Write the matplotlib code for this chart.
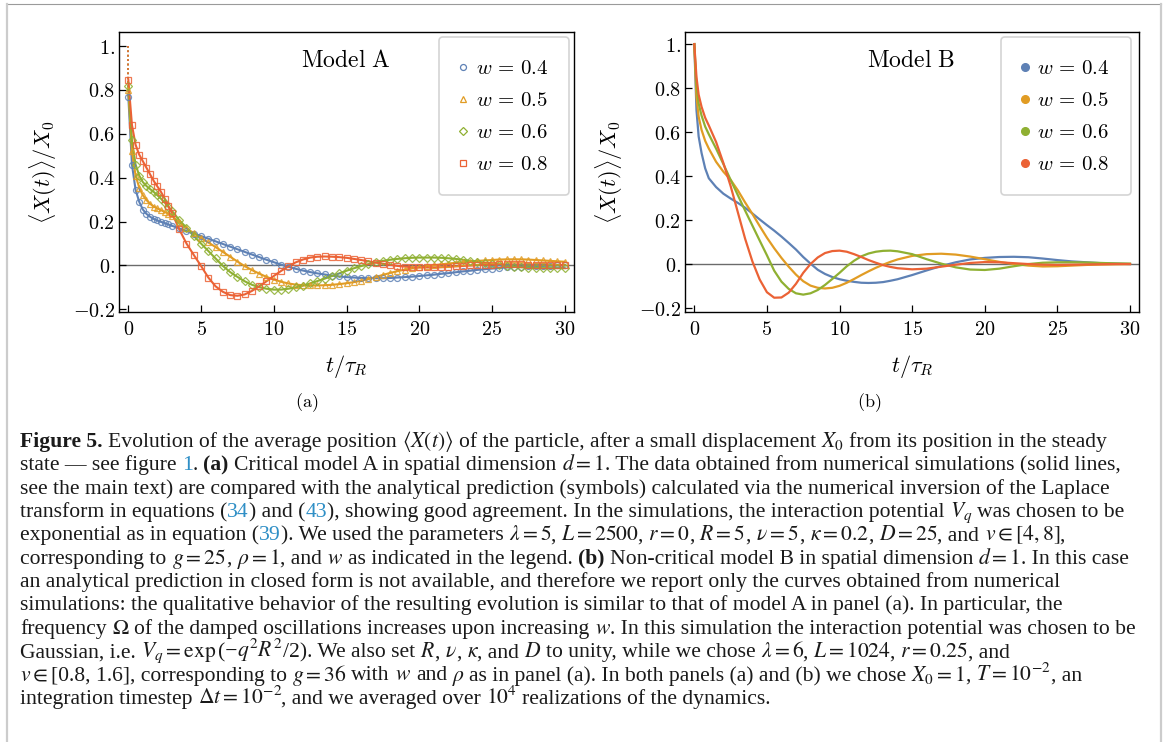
import re
import matplotlib
matplotlib.use("Agg")
import matplotlib.pyplot as plt
from matplotlib.lines import Line2D
from matplotlib.font_manager import FontProperties
from matplotlib.mathtext import MathTextParser

plt.rcParams["mathtext.fontset"] = "cm"

# Mathematica default palette
colors = ["#5E81B5", "#E19C24", "#8FB032", "#EB6235"]
w_labels = [r"$w\,=\,0.4$", r"$w\,=\,0.5$", r"$w\,=\,0.6$", r"$w\,=\,0.8$"]
markers_a = ["o", "^", "D", "s"]

x_ticks = [0, 5, 10, 15, 20, 25, 30]
x_ticklabels = ["$0$", "$5$", "$10$", "$15$", "$20$", "$25$", "$30$"]
y_ticks = [-0.2, 0.0, 0.2, 0.4, 0.6, 0.8, 1.0]
y_ticklabels = ["$-0.2$", "$0.$", "$0.2$", "$0.4$", "$0.6$", "$0.8$", "$1.$"]

x0_start = 1.0  # <X(0)>/X0

# ---- panel (a): model A, symbols (analytical) + lines (simulations)
t_a = [0, 0.25, 0.5, 0.75, 1.0, 1.25, 1.5, 1.75, 2.0, 2.25, 2.5, 2.75, 3.0,
       3.5, 4.0, 4.5, 5.0, 5.5, 6.0, 6.5, 7.0, 7.5, 8.0, 8.5, 9.0, 9.5, 10.0,
       10.5, 11.0, 11.5, 12.0, 12.5, 13.0, 13.5, 14.0, 14.5, 15.0, 15.5, 16.0,
       16.5, 17.0, 17.5, 18.0, 18.5, 19.0, 19.5, 20.0, 20.5, 21.0, 21.5, 22.0,
       22.5, 23.0, 23.5, 24.0, 24.5, 25.0, 25.5, 26.0, 26.5, 27.0, 27.5, 28.0,
       28.5, 29.0, 29.5, 30.0]

a_w04 = [0.77, 0.46, 0.345, 0.29, 0.255, 0.235, 0.222, 0.212, 0.205, 0.199, 0.193, 0.187, 0.181,
         0.169, 0.157, 0.145, 0.134, 0.122, 0.110, 0.098, 0.086, 0.074, 0.062, 0.050, 0.038, 0.026, 0.015,
         0.004, -0.006, -0.015, -0.023, -0.030, -0.036, -0.041, -0.046, -0.050, -0.053, -0.055, -0.057,
         -0.058, -0.058, -0.058, -0.057, -0.055, -0.053, -0.051, -0.048, -0.045, -0.042, -0.038, -0.035,
         -0.031, -0.027, -0.024, -0.020, -0.017, -0.014, -0.011, -0.009, -0.007, -0.005, -0.004, -0.003,
         -0.002, -0.001, 0.0, 0.0]
a_w05 = [0.80, 0.52, 0.41, 0.355, 0.32, 0.298, 0.281, 0.268, 0.26, 0.252, 0.244, 0.236, 0.225,
         0.197, 0.17, 0.147, 0.125, 0.105, 0.084, 0.062, 0.040, 0.018, -0.003, -0.021, -0.037, -0.052, -0.064,
         -0.074, -0.082, -0.087, -0.090, -0.091, -0.091, -0.090, -0.088, -0.085, -0.081, -0.076, -0.070,
         -0.062, -0.053, -0.043, -0.034, -0.026, -0.019, -0.013, -0.008, -0.003, 0.001, 0.005, 0.009,
         0.012, 0.015, 0.018, 0.021, 0.023, 0.025, 0.027, 0.028, 0.028, 0.028, 0.027, 0.025,
         0.023, 0.021, 0.019, 0.017]
a_w06 = [0.82, 0.57, 0.46, 0.41, 0.38, 0.362, 0.348, 0.335, 0.32, 0.304, 0.287, 0.268, 0.249,
         0.207, 0.172, 0.135, 0.100, 0.066, 0.032, -0.002, -0.030, -0.052, -0.072, -0.088, -0.099, -0.106, -0.110,
         -0.110, -0.106, -0.100, -0.092, -0.082, -0.071, -0.060, -0.048, -0.036, -0.024, -0.013, -0.003,
         0.006, 0.014, 0.021, 0.026, 0.030, 0.033, 0.035, 0.036, 0.036, 0.036, 0.035, 0.033,
         0.030, 0.026, 0.021, 0.016, 0.011, 0.006, 0.002, -0.002, -0.005, -0.008, -0.010, -0.011,
         -0.012, -0.012, -0.012, -0.012]
a_w08 = [0.847, 0.64, 0.55, 0.505, 0.475, 0.445, 0.415, 0.385, 0.36, 0.335, 0.305, 0.27, 0.24,
         0.165, 0.10, 0.048, -0.002, -0.055, -0.095, -0.120, -0.135, -0.138, -0.132, -0.116, -0.095, -0.072, -0.048,
         -0.025, -0.004, 0.014, 0.027, 0.036, 0.040, 0.041, 0.040, 0.038, 0.035, 0.030, 0.025,
         0.019, 0.013, 0.008, 0.003, -0.002, -0.005, -0.008, -0.009, -0.009, -0.009, -0.008, -0.006,
         -0.004, -0.002, 0.000, 0.002, 0.003, 0.004, 0.005, 0.005, 0.005, 0.005, 0.004, 0.004,
         0.003, 0.003, 0.002, 0.002]

# ---- panel (b): model B, simulations only
t_b = [0, 0.15, 0.3, 0.5, 0.75, 1.0, 1.5, 2.0, 2.5, 3.0, 3.5, 4.0, 4.5, 5.0, 5.5, 6.0,
       6.5, 7.0, 7.5, 8.0, 8.5, 9.0, 9.5, 10.0, 10.5, 11.0, 11.5, 12.0, 12.5, 13.0, 13.5,
       14.0, 15.0, 16.0, 17.0, 18.0, 19.0, 20.0, 21.0, 22.0, 23.0, 24.0, 25.0, 26.0, 27.0,
       28.0, 29.0, 30.0]
b_w04 = [1.0, 0.70, 0.58, 0.505, 0.435, 0.39, 0.35, 0.32, 0.298, 0.278, 0.256, 0.23, 0.203, 0.177, 0.152, 0.125,
         0.096, 0.066, 0.032, 0.002, -0.026, -0.045, -0.059, -0.069, -0.076, -0.081, -0.085, -0.086, -0.085, -0.082, -0.076,
         -0.069, -0.05, -0.029, -0.009, 0.008, 0.021, 0.028, 0.032, 0.033, 0.031, 0.025, 0.018, 0.012, 0.008,
         0.004, 0.002, 0.0]
b_w05 = [1.0, 0.76, 0.67, 0.61, 0.56, 0.525, 0.465, 0.42, 0.383, 0.335, 0.28, 0.228, 0.173, 0.12, 0.072, 0.028,
         -0.012, -0.048, -0.078, -0.098, -0.108, -0.111, -0.108, -0.099, -0.085, -0.068, -0.05, -0.033, -0.017, -0.003, 0.01,
         0.021, 0.037, 0.045, 0.047, 0.043, 0.034, 0.022, 0.01, 0.0, -0.007, -0.011, -0.01, -0.007, -0.004,
         -0.002, -0.001, 0.0]
b_w06 = [1.0, 0.81, 0.73, 0.675, 0.625, 0.59, 0.525, 0.455, 0.383, 0.313, 0.243, 0.175, 0.107, 0.04, -0.03, -0.08,
         -0.113, -0.133, -0.139, -0.133, -0.118, -0.095, -0.068, -0.04, -0.01, 0.015, 0.035, 0.048, 0.056, 0.06, 0.061,
         0.058, 0.045, 0.022, 0.002, -0.015, -0.025, -0.027, -0.021, -0.01, 0.0, 0.006, 0.008, 0.008, 0.007,
         0.005, 0.003, 0.002]
b_w08 = [1.0, 0.85, 0.77, 0.715, 0.665, 0.63, 0.555, 0.46, 0.355, 0.235, 0.115, 0.012, -0.07, -0.128, -0.153, -0.152,
         -0.13, -0.09, -0.04, 0.0, 0.03, 0.05, 0.059, 0.061, 0.056, 0.045, 0.032, 0.018, 0.006, -0.005, -0.013,
         -0.019, -0.024, -0.021, -0.012, -0.003, 0.005, 0.009, 0.008, 0.004, 0.0, -0.003, -0.004, -0.003, -0.002,
         -0.001, 0.0, 0.0]

series_a = [a_w04, a_w05, a_w06, a_w08]
series_b = [b_w04, b_w05, b_w06, b_w08]

W, H = 1167, 742
fig = plt.figure(figsize=(W / 100, H / 100), dpi=100)


def px_axes(x0, y0, x1, y1):
    return fig.add_axes([x0 / W, 1 - y1 / H, (x1 - x0) / W, (y1 - y0) / H])


def style_axes(ax, xlim, ylim):
    ax.set_xlim(*xlim)
    ax.set_ylim(*ylim)
    ax.set_xticks(x_ticks, labels=x_ticklabels)
    ax.set_yticks(y_ticks, labels=y_ticklabels)
    ax.tick_params(direction="in", length=5, width=0.9, labelsize=14.5, top=False, right=False)
    ax.tick_params(axis="y", pad=3)
    ax.tick_params(axis="x", pad=6)
    for sp in ax.spines.values():
        sp.set_linewidth(1.0)
    ax.axhline(0, color="#6b6b6b", lw=1.0, zorder=1)
    ax.set_xlabel(r"$t/\tau_R$", fontsize=16)
    ax.set_ylabel(r"$\langle X(t)\rangle/X_0$", fontsize=16)
    ax.xaxis.set_label_coords(0.5, -0.196)
    ax.xaxis.label.set_va("center")
    ax.yaxis.set_label_coords(-0.168, 0.5)
    ax.yaxis.label.set_va("center")


def add_legend(ax, handles, x_anchor):
    leg = ax.legend(handles=handles, loc="upper right", bbox_to_anchor=(x_anchor, 0.982), borderaxespad=0,
                    fontsize=15, borderpad=1.0, labelspacing=0.58, handlelength=0.3, handletextpad=0.45,
                    fancybox=True, framealpha=1, edgecolor="#d4d4d4")
    leg.get_frame().set_linewidth(1.2)


# panel (a)
ax1 = px_axes(119, 32, 574, 312)
style_axes(ax1, (-0.64, 30.64), (-0.212, 1.064))
handles = []
for vals, c, m, lab in zip(series_a, colors, markers_a, w_labels):
    ax1.plot([0, t_a[0]], [x0_start, vals[0]], color=c, lw=1.2, ls=":", zorder=2)
    ax1.plot(t_a, vals, color=c, lw=1.5, zorder=2)
    ms = 3.6 if m == "D" else 4.3
    ax1.plot(t_a, vals, ls="none", marker=m, ms=ms, mfc="none", mec=c, mew=0.9, alpha=0.85, zorder=3)
    handles.append(Line2D([], [], ls="none", marker=m, ms=ms, mfc="none", mec=c, mew=0.9, label=lab))
ax1.text(0.499, 0.9, r"$\mathrm{Model\ A}$", transform=ax1.transAxes, ha="center", va="center", fontsize=17)
add_legend(ax1, handles, 0.989)

# panel (b)
ax2 = px_axes(685, 32, 1139, 312)
style_axes(ax2, (-0.64, 30.62), (-0.218, 1.055))
handles = []
for vals, c, lab in zip(series_b, colors, w_labels):
    ax2.plot(t_b, vals, color=c, lw=1.6, zorder=2)
    handles.append(Line2D([], [], ls="none", marker="o", ms=5.5, color=c, label=lab))
ax2.text(0.498, 0.9, r"$\mathrm{Model\ B}$", transform=ax2.transAxes, ha="center", va="center", fontsize=17)
add_legend(ax2, handles, 0.982)

fig.text(307 / W, 1 - 403 / H, "$\\mathrm{(a)}$", ha="center", va="center", fontsize=13)
fig.text(869 / W, 1 - 403 / H, "$\\mathrm{(b)}$", ha="center", va="center", fontsize=13)

# page border
fig.add_artist(Line2D([7 / W, 1161 / W], [1 - 4 / H, 1 - 4 / H], color="#9a9a9a", lw=0.8))
fig.add_artist(Line2D([7 / W, 7 / W], [0, 1 - 4 / H], color="#cccccc", lw=1.6))
fig.add_artist(Line2D([1161 / W, 1161 / W], [0, 1 - 4 / H], color="#cccccc", lw=1.6))

# ---- caption
caption = [
    r"**Figure 5.** Evolution of the average position $\langle X(t)\rangle$ of the particle, after a small displacement $X_0$ from its position in the steady",
    r"state — see figure [[1]]. **(a)** Critical model A in spatial dimension $d=1$. The data obtained from numerical simulations (solid lines,",
    r"see the main text) are compared with the analytical prediction (symbols) calculated via the numerical inversion of the Laplace",
    r"transform in equations ([[34]]) and ([[43]]), showing good agreement. In the simulations, the interaction potential $V_q$ was chosen to be",
    r"exponential as in equation ([[39]]). We used the parameters $\lambda=5$, $L=2500$, $r=0$, $R=5$, $\nu=5$, $\kappa=0.2$, $D=25$, and $v\in[4,8]$,",
    r"corresponding to $g=25$, $\rho=1$, and $w$ as indicated in the legend. **(b)** Non-critical model B in spatial dimension $d=1$. In this case",
    r"an analytical prediction in closed form is not available, and therefore we report only the curves obtained from numerical",
    r"simulations: the qualitative behavior of the resulting evolution is similar to that of model A in panel (a). In particular, the",
    r"frequency $\Omega$ of the damped oscillations increases upon increasing $w$. In this simulation the interaction potential was chosen to be",
    r"Gaussian, i.e. $V_q=\exp$(−$q^2R^2$/2). We also set $R$, $\nu$, $\kappa$, and $D$ to unity, while we chose $\lambda=6$, $L=1024$, $r=0.25$, and",
    r"$v\in$[0.8, 1.6], corresponding to $g=36$ with $w$ and $\rho$ as in panel (a). In both panels (a) and (b) we chose $X_0=1$, $T=10^{-2}$, an",
    r"integration timestep $\Delta t=10^{-2}$, and we averaged over $10^4$ realizations of the dynamics.",
]
link_color = "#2f8fc6"
text_color = "#1a1a1a"
renderer = fig.canvas.get_renderer()
math_parser = MathTextParser("path")


def put(x, y, s, size, **kw):
    return fig.text(x / W, 1 - y / H, s, fontsize=size, family="Liberation Serif",
                    math_fontfamily="stix", ha="left", va="baseline", **kw)


def advance(s, size, **kw):
    if "$" in s:
        fp = FontProperties(family="Liberation Serif", size=size, math_fontfamily="stix")
        return math_parser.parse(s, 72, fp)[0] * fig.dpi / 72
    a = put(0, -200, "n" + s + "n", size, **kw)
    b = put(0, -200, "nn", size, **kw)
    d = a.get_window_extent(renderer).width - b.get_window_extent(renderer).width
    a.remove()
    b.remove()
    return d


def draw_line(line, x, y, size, space, draw=True):
    for p in re.split(r"(\*\*.*?\*\*|\[\[.*?\]\]|\$[^$]*\$)", line):
        if not p:
            continue
        kw = dict(color=text_color, weight="normal")
        if p.startswith("**"):
            p = p[2:-2]
            kw["weight"] = "bold"
        elif p.startswith("[["):
            p = p[2:-2]
            kw["color"] = link_color
        s = p.strip()
        if not s:
            x += space
            continue
        if p[0] == " ":
            x += space
        if draw:
            put(x, y, s, size, **kw)
        x += advance(s, size, **kw)
        if p[-1] == " ":
            x += space
    return x


# fit caption font so the first line spans the same width as the original
space14 = advance(" ", 14)
end = draw_line(caption[0], 20, -100, 14, space14, draw=False)
cap_size = 14 * (1110 - 20) / (end - 20)
space = advance(" ", cap_size)

for i, line in enumerate(caption):
    draw_line(line, 20, 447 + 23.35 * i, cap_size, space)

fig.savefig("out.png", dpi=100)
